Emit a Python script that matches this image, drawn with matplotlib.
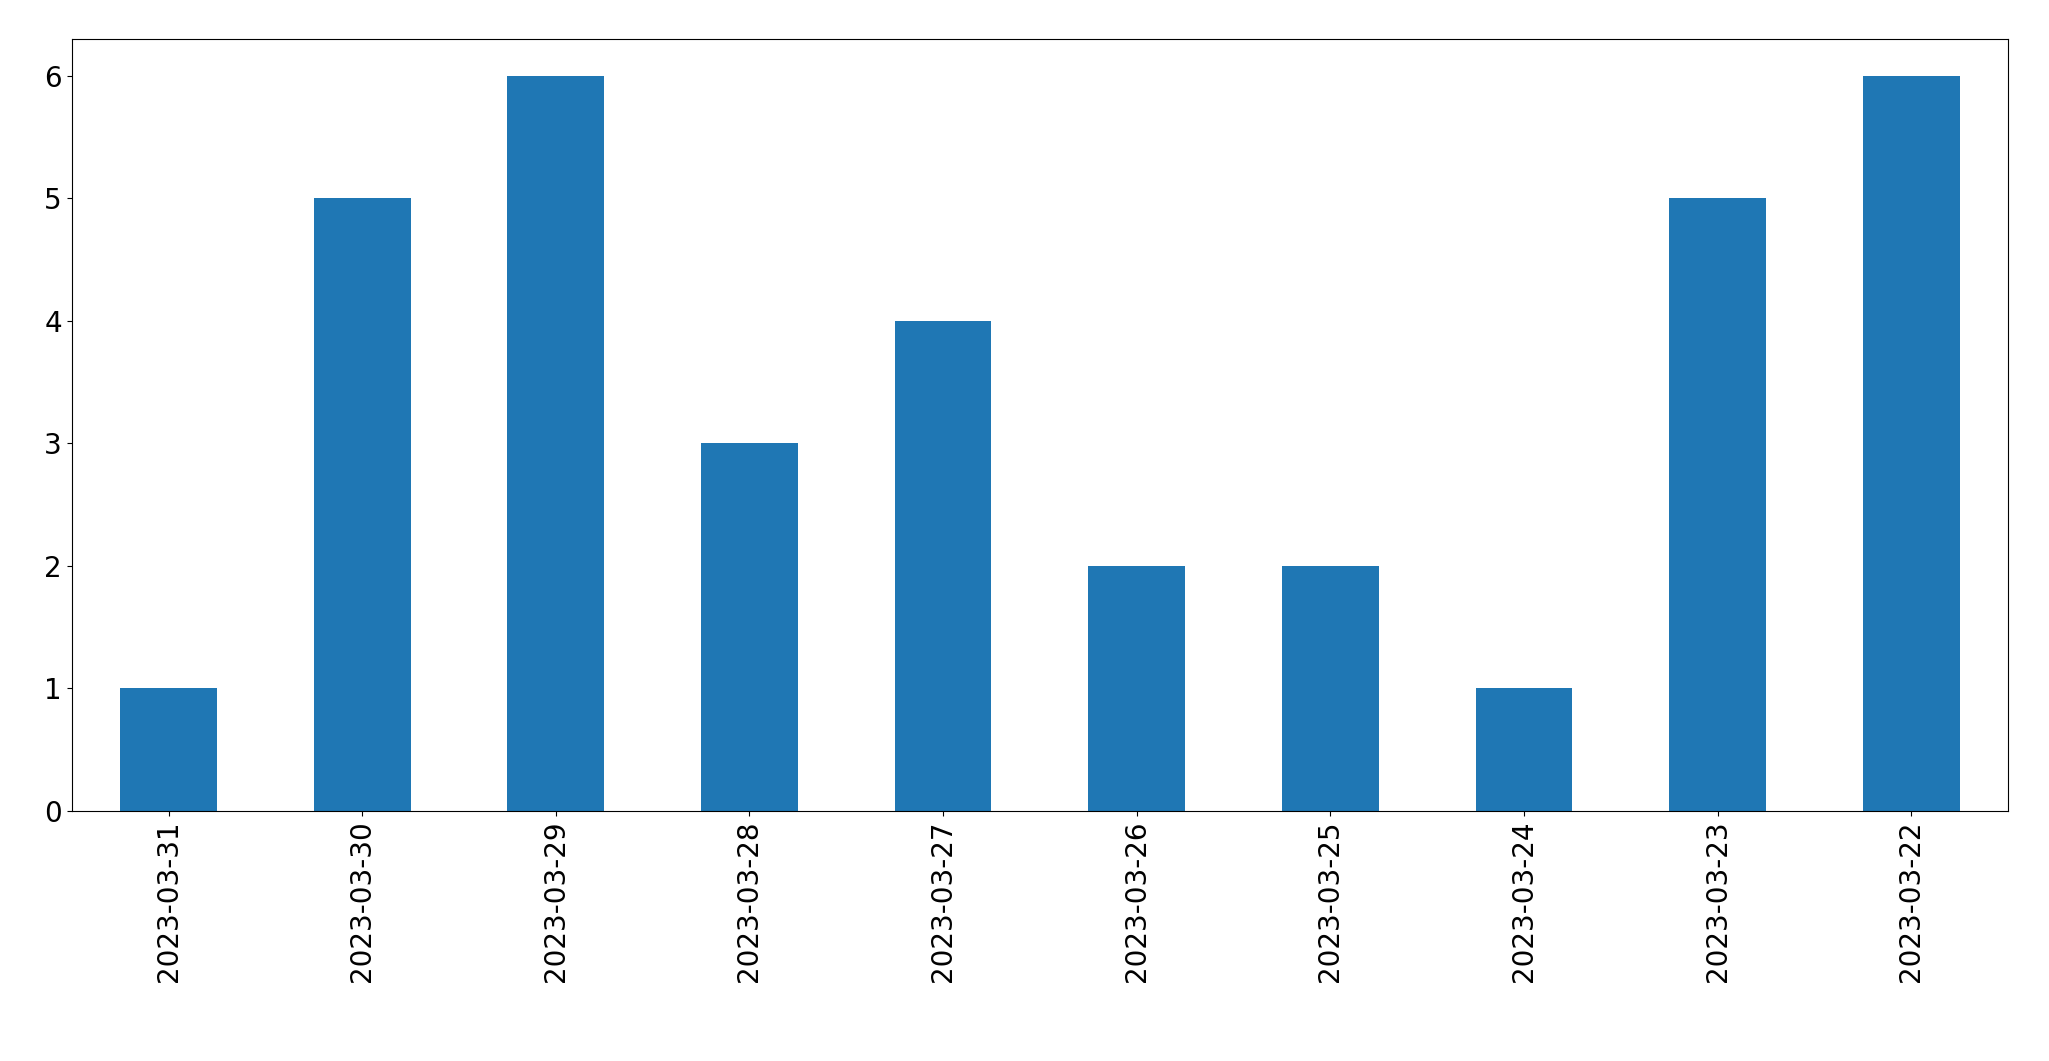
import matplotlib
matplotlib.use("Agg")
import matplotlib.pyplot as plt

dates = ["2023-03-31","2023-03-30","2023-03-29","2023-03-28","2023-03-27",
         "2023-03-26","2023-03-25","2023-03-24","2023-03-23","2023-03-22"]
counts = [1,5,6,3,4,2,2,1,5,6]

fig = plt.figure(figsize=(20.49,10.61), dpi=100)
ax = fig.add_axes([0.035,0.236,0.945,0.727])
x = range(len(dates))
ax.bar(x, counts, width=0.5, color="#1f77b4")
ax.set_xticks(list(x))
ax.set_xticklabels(dates, rotation=90, fontsize=20)
ax.tick_params(axis='y', labelsize=20)
ax.set_xlim(-0.5, len(dates)-0.5)
ax.set_ylim(0, 6.3)
fig.savefig("out.png", dpi=100)
